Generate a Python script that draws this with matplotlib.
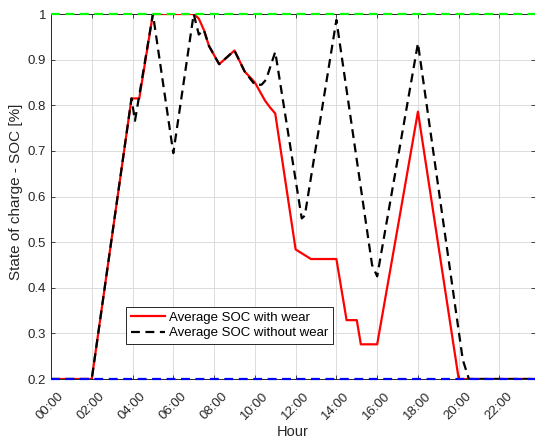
import matplotlib
matplotlib.use("Agg")
import matplotlib.pyplot as plt
import matplotlib.transforms as mtransforms
import numpy as np

plt.rcParams['font.family'] = ['Liberation Sans', 'DejaVu Sans']

# --- data (hours of day, SOC) ---
hours_wear = [0, 2.0, 3.95, 4.33, 5.0, 7.0, 7.25, 7.5, 7.75, 8.25, 9.0, 9.5, 10.0,
              10.5, 10.75, 11.0, 12.0, 12.75, 14.0, 14.5, 15.0, 15.2, 16.0, 17.0,
              18.0, 20.0, 23.75]
soc_wear = [0.2, 0.2, 0.815, 0.815, 1.0, 1.0, 0.99, 0.965, 0.93, 0.89, 0.92, 0.874, 0.85,
            0.81, 0.795, 0.782, 0.484, 0.463, 0.463, 0.329, 0.329, 0.276, 0.276, 0.53,
            0.786, 0.2, 0.2]

hours_nowear = [0, 2.0, 3.95, 4.12, 5.0, 6.0, 7.0, 7.25, 7.5, 7.75, 8.25, 9.0, 9.5,
                10.0, 10.33, 10.55, 11.0, 12.3, 12.45, 14.0, 15.75, 16.0, 18.0, 20.2,
                20.5, 23.75]
soc_nowear = [0.2, 0.2, 0.815, 0.766, 1.0, 0.695, 1.0, 0.955, 0.965, 0.93, 0.89, 0.92, 0.874,
              0.845, 0.845, 0.856, 0.917, 0.552, 0.558, 0.987, 0.45, 0.425, 0.936, 0.242,
              0.2, 0.2]

soc_max = 1.0
soc_min = 0.2
tick_hours = list(range(0, 24, 2))
tick_labels = [f"{h:02d}:00" for h in tick_hours]

fig = plt.figure(figsize=(5.35, 4.38), dpi=100)
ax = fig.add_axes([0.0953, 0.1347, 0.905, 0.8333])

ax.plot(hours_wear, soc_wear, color='red', lw=1.6, label='Average SOC with wear', zorder=3)
ax.plot(hours_nowear, soc_nowear, color='black', lw=1.6, ls=(0, (4, 2.5)),
        label='Average SOC without wear', zorder=4)
ax.axhline(soc_max, color='#00ff00', lw=1.6, ls=(0, (4, 2.5)), zorder=5, clip_on=False)
ax.axhline(soc_min, color='#0000ff', lw=1.6, ls=(0, (4, 2.5)), zorder=5, clip_on=False)

ax.set_xlim(0, 23.75)
ax.set_ylim(0.2, 1.0)
ax.set_xticks(tick_hours)
ax.set_xticklabels(tick_labels, rotation=45, ha='right', rotation_mode='anchor')
ax.set_yticks(np.arange(0.2, 1.01, 0.1))
ax.set_yticklabels(['0.2', '0.3', '0.4', '0.5', '0.6', '0.7', '0.8', '0.9', '1'])

ax.grid(True, color='#dcdcdc', lw=0.7)
ax.set_axisbelow(True)
ax.tick_params(direction='in', length=3, width=0.6, colors='#262626', labelsize=9.5,
               top=True, right=True)
for s in ax.spines.values():
    s.set_color('#262626')
    s.set_linewidth(0.7)

# shift rotated labels a little, matlab style (after tick_params, it resets transforms)
shift = mtransforms.ScaledTranslation(0.07, -0.06, fig.dpi_scale_trans)
for lbl in ax.get_xticklabels():
    lbl.set_transform(lbl.get_transform() + shift)

ax.set_xlabel('Hour', fontsize=10.5, color='#262626', va='top')
ax.xaxis.set_label_coords(0.5, -0.125)
ax.set_ylabel('State of charge - SOC [%]', fontsize=11, color='#262626')
ax.yaxis.set_label_coords(-0.057, 0.514)

leg = ax.legend(loc='lower left', bbox_to_anchor=(0.155, 0.096), borderaxespad=0,
                fontsize=9.5, fancybox=False, framealpha=1, edgecolor='#262626',
                handlelength=2.6, handletextpad=0.3, borderpad=0.35, labelspacing=0.25)
leg.get_frame().set_linewidth(0.7)

fig.savefig('out.png', dpi=100)
